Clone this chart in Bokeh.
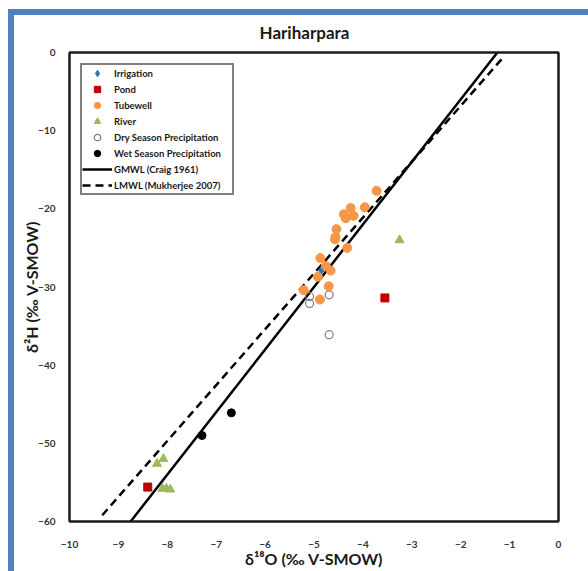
from bokeh.plotting import figure
from bokeh.models import Legend, LegendItem, FixedTicker, Range1d, LinearAxis
from bokeh.embed import file_html
from bokeh.resources import INLINE

# ---- data ----
irr_x = [-4.85]
irr_y = [-27.9]

pond_x = [-3.55, -8.40]
pond_y = [-31.4, -55.6]

tube_x = [-3.72, -4.25, -3.96, -4.39, -4.35, -4.19, -4.54, -4.56, -4.57,
          -4.32, -4.87, -4.76, -4.66, -4.92, -4.70, -5.21, -4.88]
tube_y = [-17.7, -19.9, -19.8, -20.7, -21.2, -20.9, -22.6, -23.6, -23.9,
          -25.0, -26.3, -27.3, -27.9, -28.7, -29.9, -30.4, -31.6]

river_x = [-3.25, -8.21, -8.08, -8.10, -8.02, -7.94]
river_y = [-24.0, -52.6, -52.0, -55.8, -55.8, -55.9]

dry_x = [-5.09, -5.09, -4.69, -4.69]
dry_y = [-31.2, -32.1, -31.0, -36.1]

wet_x = [-7.29, -6.69]
wet_y = [-49.0, -46.1]

gmwl_x = [-8.75, -1.25]
gmwl_y = [-60.0, 0.0]

lmwl_x = [-9.33, -1.10]
lmwl_y = [-59.2, -0.4]

x_ticks = [-10, -9, -8, -7, -6, -5, -4, -3, -2, -1, 0]
y_ticks = [-60, -50, -40, -30, -20, -10, 0]

FONT = "Lato"
DARK = "#1a1a1a"
BLUE = "#4F81BD"

bg = (f"linear-gradient({BLUE},{BLUE}) 8px 9px / 6px 100% no-repeat, "
      f"linear-gradient({BLUE},{BLUE}) 8px 9px / 100% 6px no-repeat, #ffffff")

p = figure(width=588, height=571, output_backend="svg", toolbar_location=None,
           x_range=Range1d(-10, 0), y_range=Range1d(-60, 0),
           min_border_left=69, min_border_right=30, min_border_top=52,
           min_border_bottom=50, title="Hariharpara",
           styles={"background": bg})

p.background_fill_color = "white"
p.border_fill_color = None
p.outline_line_color = DARK
p.outline_line_width = 2
p.grid.visible = False

p.title.align = "left"
p.title.offset = 190
p.title.text_font = FONT
p.title.text_font_size = "17px"
p.title.text_font_style = "bold"
p.title.text_color = DARK
p.title.standoff = 19

p.xaxis.ticker = FixedTicker(ticks=x_ticks)
p.yaxis.ticker = FixedTicker(ticks=y_ticks)
for ax in (p.xaxis[0], p.yaxis[0]):
    ax.axis_line_color = DARK
    ax.axis_line_width = 2
    ax.major_tick_line_color = None
    ax.minor_tick_line_color = None
    ax.major_label_text_font = FONT
    ax.major_label_text_font_size = "10px"
    ax.major_label_text_font_style = "bold"
    ax.major_label_text_color = "#333333"
    ax.axis_label_text_font = FONT
    ax.axis_label_text_font_size = "16px"
    ax.axis_label_text_font_style = "bold"
    ax.axis_label_text_color = DARK

p.xaxis.axis_label = "δ¹⁸O (‰ V-SMOW)"
p.yaxis.axis_label = "δ²H (‰ V-SMOW)"
p.xaxis.major_label_standoff = 13
p.yaxis.major_label_standoff = 8
p.xaxis.axis_label_standoff = -2
p.yaxis.axis_label_standoff = -6

# frame lines on the top and right sides
for side in ("right", "above"):
    ax = LinearAxis(ticker=FixedTicker(ticks=[]), axis_line_color=DARK, axis_line_width=2,
                    major_tick_line_color=None, minor_tick_line_color=None,
                    major_label_standoff=0, major_label_text_font_size="0px")
    p.add_layout(ax, side)

r_gmwl = p.line(gmwl_x, gmwl_y, line_color="black", line_width=2.5)
r_lmwl = p.line(lmwl_x, lmwl_y, line_color="black", line_width=2.5, line_dash="8 5")

r_wet = p.scatter(wet_x, wet_y, marker="circle", size=8, fill_color="black", line_color="black")
r_dry = p.scatter(dry_x, dry_y, marker="circle", size=8, fill_color=None, line_color="#7f7f7f", line_width=1.2)
r_river = p.scatter(river_x, river_y, marker="triangle", size=9, fill_color="#9BBB59", line_color="#9BBB59")
r_irr = p.scatter(irr_x, irr_y, marker="diamond", size=8, fill_color="#2E75B6", line_color="#2E75B6")
r_tube = p.scatter(tube_x, tube_y, marker="circle", size=9, fill_color="#F79646", line_color="#F79646")
r_pond = p.scatter(pond_x, pond_y, marker="square", size=8, fill_color="#C00000", line_color="#C00000")

legend = Legend(items=[
    LegendItem(label="Irrigation", renderers=[r_irr]),
    LegendItem(label="Pond", renderers=[r_pond]),
    LegendItem(label="Tubewell", renderers=[r_tube]),
    LegendItem(label="River", renderers=[r_river]),
    LegendItem(label="Dry Season Precipitation", renderers=[r_dry]),
    LegendItem(label="Wet Season Precipitation", renderers=[r_wet]),
    LegendItem(label="GMWL (Craig 1961)", renderers=[r_gmwl]),
    LegendItem(label="LMWL (Mukherjee 2007)", renderers=[r_lmwl]),
], location="top_left")
legend.margin = 11
legend.padding = 0
legend.spacing = 0
legend.glyph_width = 30
legend.glyph_height = 16
legend.label_height = 16
legend.label_width = 118
legend.label_standoff = 2
legend.label_text_font = FONT
legend.label_text_font_size = "9.5px"
legend.label_text_font_style = "bold"
legend.label_text_color = DARK
legend.border_line_color = "black"
legend.border_line_width = 2
legend.background_fill_color = "white"
legend.background_fill_alpha = 1
p.add_layout(legend, "center")

open("out.html", "w").write(file_html(p, INLINE))
